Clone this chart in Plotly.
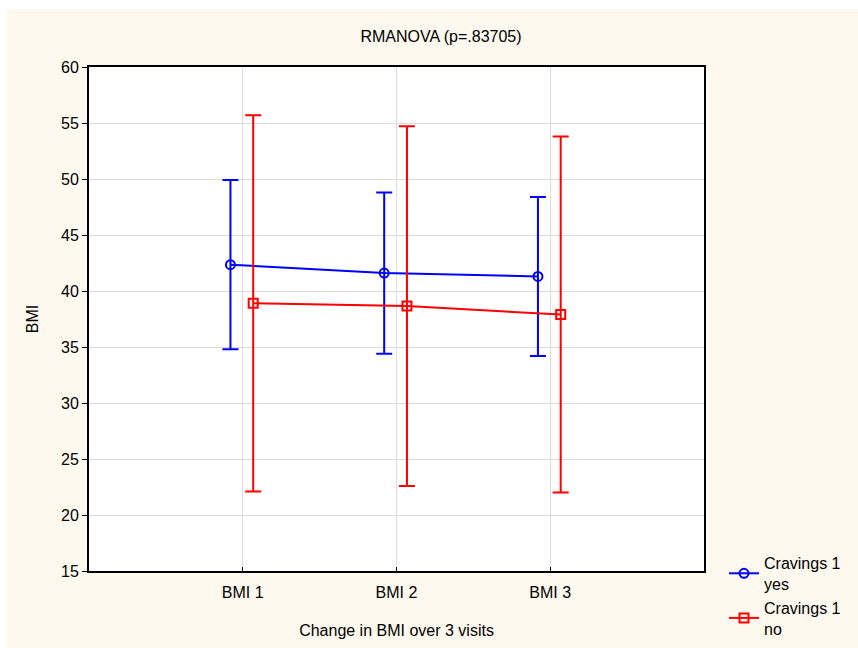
import plotly.graph_objects as go

categories = ["BMI 1", "BMI 2", "BMI 3"]
yes_mean = [42.35, 41.6, 41.3]
yes_err = [7.55, 7.2, 7.1]
no_mean = [38.9, 38.65, 37.9]
no_err = [16.8, 16.05, 15.9]
y_ticks = [15, 20, 25, 30, 35, 40, 45, 50, 55, 60]

FONT = "Liberation Sans, Arial, sans-serif"
CREAM = "#FEF9EF"

base_x = [i + 1 for i in range(len(categories))]
yes_x = [v - 0.08 for v in base_x]
no_x = [v + 0.068 for v in base_x]

fig = go.Figure()
fig.add_trace(go.Scatter(
    x=yes_x, y=yes_mean, mode="lines+markers", name="Cravings 1<br>yes",
    line=dict(color="#0000FF", width=2),
    marker=dict(symbol="circle-open", size=9, color="#0000FF", line=dict(width=2)),
    error_y=dict(type="data", array=yes_err, visible=True, color="#0000FF",
                 thickness=2, width=8),
))
fig.add_trace(go.Scatter(
    x=no_x, y=no_mean, mode="lines+markers", name="Cravings 1<br>no",
    line=dict(color="#FF0000", width=2),
    marker=dict(symbol="square-open", size=9, color="#FF0000", line=dict(width=2)),
    error_y=dict(type="data", array=no_err, visible=True, color="#FF0000",
                 thickness=2, width=8),
))

L, R, T, B = 89, 154, 67, 77
W, H = 858, 648
pw, ph = W - L - R, H - T - B

fig.update_layout(
    width=W, height=H,
    margin=dict(l=L, r=R, t=T, b=B, autoexpand=False),
    paper_bgcolor=CREAM,
    plot_bgcolor="white",
    font=dict(family=FONT, size=16, color="black"),
    title=dict(text="RMANOVA (p=.83705)", x=(441 - L) / pw, xref="paper", xanchor="center",
               y=1 - 36 / H, yanchor="middle", font=dict(size=16, family=FONT)),
    showlegend=True,
    legend=dict(xref="container", yref="container", x=724 / W, y=1 - 546 / H,
                xanchor="left", yanchor="top",
                bgcolor="rgba(0,0,0,0)", font=dict(size=16, family=FONT),
                tracegroupgap=2, itemwidth=30),
    xaxis=dict(
        range=[0, 4], tickmode="array", tickvals=base_x, ticktext=categories,
        showgrid=True, gridcolor="#DCDCDC", gridwidth=1,
        showline=True, linecolor="black", linewidth=2, mirror=True,
        ticks="inside", ticklen=4, tickcolor="black",
        zeroline=False, ticklabelstandoff=6, automargin=False,
        title=dict(text="Change in BMI over 3 visits", standoff=25, font=dict(size=16)),
        tickfont=dict(size=16),
    ),
    yaxis=dict(
        range=[15, 60], tickmode="array", tickvals=y_ticks,
        showgrid=True, gridcolor="#DCDCDC", gridwidth=1,
        showline=True, linecolor="black", linewidth=2, mirror=True,
        ticks="outside", ticklen=5, tickcolor="black",
        zeroline=False, automargin=False,
        title=dict(text="BMI", standoff=18, font=dict(size=16)),
        tickfont=dict(size=16),
    ),
)

# white border strips outside the cream chart panel (top and left)
fig.add_shape(type="rect", xref="paper", yref="paper",
              x0=-L / pw - 0.01, x1=(W - L) / pw + 0.01, y0=(H - B - 9) / ph, y1=(H - B) / ph + 0.01,
              fillcolor="white", line=dict(width=0), layer="below")
fig.add_shape(type="rect", xref="paper", yref="paper",
              x0=-L / pw - 0.01, x1=(7 - L) / pw, y0=-B / ph - 0.01, y1=(H - B) / ph + 0.01,
              fillcolor="white", line=dict(width=0), layer="below")

fig.write_html("out.html")
